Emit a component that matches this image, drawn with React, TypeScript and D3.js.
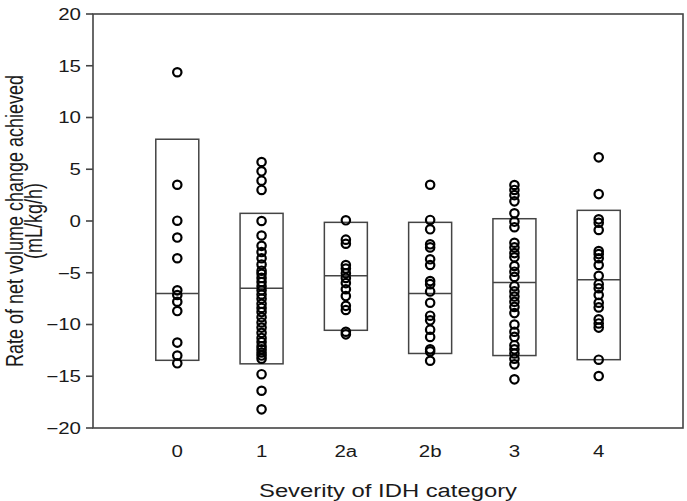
import React from "react";
import * as d3 from "d3";

const categories = ["0", "1", "2a", "2b", "3", "4"];

const points0 = [14.37, 3.5, 0.03, -1.6, -3.6, -6.7, -7.15, -7.8, -8.7, -11.75, -13.0, -13.75];
const points1 = [5.7, 4.8, 3.9, 3.0, 0.0, -1.4, -2.4, -3.0, -3.6, -4.2, -4.8, -5.1, -5.5, -5.9, -6.3, -6.7, -7.1, -7.5, -8.0, -8.4, -8.8, -9.3, -9.8, -10.3, -10.8, -11.3, -11.7, -12.1, -12.4, -12.7, -13.0, -13.3, -14.8, -16.4, -18.2];
const points2a = [0.07, -1.8, -2.2, -4.25, -4.6, -5.05, -5.5, -6.0, -6.6, -7.25, -8.2, -8.6, -10.7, -10.95];
const points2b = [3.5, 0.1, -0.8, -2.25, -2.55, -3.7, -4.25, -5.8, -6.1, -6.8, -7.9, -9.15, -9.6, -10.5, -11.2, -12.4, -12.6, -13.5];
const points3 = [3.48, 3.0, 2.5, 1.9, 0.74, -0.06, -0.6, -2.1, -2.55, -3.1, -3.5, -4.35, -4.9, -5.4, -6.3, -6.8, -7.3, -7.8, -8.3, -8.9, -10.0, -10.7, -11.2, -12.0, -12.4, -12.8, -13.3, -13.85, -15.3];
const points4 = [6.15, 2.6, 0.16, -0.17, -0.87, -2.9, -3.2, -3.6, -4.25, -5.3, -6.1, -6.5, -7.15, -7.9, -8.35, -9.5, -9.9, -10.3, -13.4, -14.98];

const allPoints = [points0, points1, points2a, points2b, points3, points4];

const boxTop = [7.9, 0.74, -0.13, -0.13, 0.22, 1.03];
const boxMedian = [-7.0, -6.5, -5.3, -7.0, -5.93, -5.67];
const boxBottom = [-13.46, -13.8, -10.56, -12.8, -13.0, -13.4];

const yTicks = [20, 15, 10, 5, 0, -5, -10, -15, -20];

const W = 687;
const H = 501;
const left = 93;
const right = 683;
const top = 14;
const bottom = 428;

export default function App() {
  const y = d3.scaleLinear().domain([-20, 20]).range([bottom, top]);
  const x = d3
    .scalePoint<string>()
    .domain(categories)
    .range([left, right])
    .padding(1);
  const boxW = 43;
  const fmt = (v: number) => (v < 0 ? "\u2212" + Math.abs(v) : String(v));
  const font = "'Liberation Sans', Arial, sans-serif";
  const cy = (top + bottom) / 2;
  const sx = 1.28;
  const textColor = "#1a1a1a";

  return (
    <svg
      width={W}
      height={H}
      style={{ position: "absolute", left: 0, top: 0, background: "#fff" }}
      fontFamily={font}
    >
      <rect x={0} y={0} width={W} height={H} fill="#fff" />
      {/* frame */}
      <rect
        x={left}
        y={top}
        width={right - left}
        height={bottom - top}
        fill="none"
        stroke="#444"
        strokeWidth={1.6}
      />
      {/* y ticks */}
      {yTicks.map((t) => (
        <g key={t}>
          <line x1={left - 7} x2={left} y1={y(t)} y2={y(t)} stroke="#444" strokeWidth={1.6} />
          <text
            transform={`translate(81, ${y(t)}) scale(${sx}, 1)`}
            dy="0.36em"
            textAnchor="end"
            fontSize={16}
            fill={textColor}
          >
            {fmt(t)}
          </text>
        </g>
      ))}
      {/* boxes */}
      {categories.map((c, i) => {
        const cx = x(c) as number;
        return (
          <g key={"b" + c}>
            <rect
              x={cx - boxW / 2}
              y={y(boxTop[i])}
              width={boxW}
              height={y(boxBottom[i]) - y(boxTop[i])}
              fill="none"
              stroke="#444"
              strokeWidth={1.5}
            />
            <line
              x1={cx - boxW / 2}
              x2={cx + boxW / 2}
              y1={y(boxMedian[i])}
              y2={y(boxMedian[i])}
              stroke="#444"
              strokeWidth={1.5}
            />
          </g>
        );
      })}
      {/* points */}
      {categories.map((c, i) => {
        const cx = x(c) as number;
        return (
          <g key={"p" + c}>
            {allPoints[i].map((v, j) => (
              <circle
                key={j}
                cx={cx}
                cy={y(v)}
                r={4.2}
                fill="none"
                stroke="#000"
                strokeWidth={2.2}
              />
            ))}
          </g>
        );
      })}
      {/* x labels */}
      {categories.map((c) => (
        <text
          key={"l" + c}
          transform={`translate(${x(c) as number}, 457) scale(${sx}, 1)`}
          textAnchor="middle"
          fontSize={16}
          fill={textColor}
        >
          {c}
        </text>
      ))}
      <text
        x={(left + right) / 2}
        y={497}
        textAnchor="middle"
        fontSize={18}
        textLength={258}
        lengthAdjust="spacingAndGlyphs"
        fill={textColor}
      >
        Severity of IDH category
      </text>
      <g transform={`translate(0, ${cy}) scale(${sx}, 1) rotate(-90)`}>
        <text x={0} y={18} textAnchor="middle" fontSize={18} fill={textColor}>
          Rate of net volume change achieved
        </text>
        <text x={0} y={32.5} textAnchor="middle" fontSize={18} fill={textColor}>
          (mL/kg/h)
        </text>
      </g>
    </svg>
  );
}
